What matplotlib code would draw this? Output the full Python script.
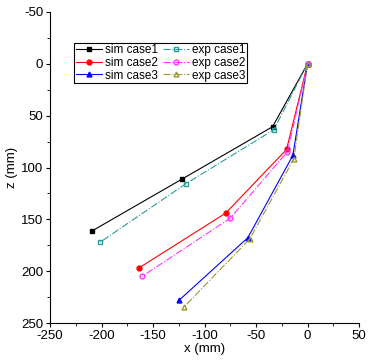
import matplotlib.pyplot as plt
from matplotlib.ticker import MultipleLocator

plt.rcParams['font.family'] = ['Liberation Sans', 'DejaVu Sans']
plt.rcParams['axes.unicode_minus'] = False

sim1_x = [0, -34, -121.6, -209]
sim1_z = [0, 60.7, 111, 161]
exp1_x = [0, -32.8, -118.4, -201.4]
exp1_z = [0, 63.6, 115.8, 172]
sim2_x = [0, -20.4, -79.5, -164]
sim2_z = [0, 82.6, 144, 197]
exp2_x = [0, -19.5, -75.2, -160.5]
exp2_z = [0, 84.8, 149, 204.8]
sim3_x = [0, -14.3, -58, -124.8]
sim3_z = [0, 88.4, 167.7, 228]
exp3_x = [0, -13.3, -56, -120.3]
exp3_z = [0, 91.6, 168.7, 234.8]

fig = plt.figure(figsize=(3.74, 3.61), dpi=100)
ax = fig.add_axes([0.134, 0.105, 0.826, 0.862])

ms = 3.5
ax.plot(sim1_x, sim1_z, '-s', color='black', lw=0.8, ms=ms, label='sim case1')
ax.plot(sim2_x, sim2_z, '-o', color='red', lw=0.8, ms=ms, label='sim case2')
ax.plot(sim3_x, sim3_z, '-^', color='blue', lw=0.8, ms=ms, label='sim case3')
ax.plot(exp1_x, exp1_z, '-.s', color='#2a9d99', lw=0.8, ms=ms, mfc='none', label='exp case1')
ax.plot(exp2_x, exp2_z, '-.o', color='#ff33ff', lw=0.8, ms=ms, mfc='none', label='exp case2')
ax.plot(exp3_x, exp3_z, '-.^', color='#999933', lw=0.8, ms=ms, mfc='none', label='exp case3')

ax.set_xlim(-250, 50)
ax.set_ylim(250, -50)
ax.xaxis.set_major_locator(MultipleLocator(50))
ax.xaxis.set_minor_locator(MultipleLocator(25))
ax.yaxis.set_major_locator(MultipleLocator(50))
ax.yaxis.set_minor_locator(MultipleLocator(25))
ax.spines['top'].set_visible(False)
ax.spines['right'].set_visible(False)
ax.tick_params(labelsize=9.5, length=3, width=0.8, pad=2)
ax.tick_params(which='minor', length=2, width=0.6)
ax.set_xlabel('x (mm)', fontsize=9.5, labelpad=1)
ax.set_ylabel('z (mm)', fontsize=9.5, labelpad=2)

leg = ax.legend(ncol=2, loc='upper left', bbox_to_anchor=(0.078, 0.9), fontsize=8.5,
                fancybox=False, edgecolor='black', framealpha=1, borderpad=0.12,
                handlelength=2.2, handletextpad=0.3, columnspacing=0.4, labelspacing=0.05,
                borderaxespad=0)
leg.get_frame().set_linewidth(0.8)

fig.savefig('out.png', dpi=100)
